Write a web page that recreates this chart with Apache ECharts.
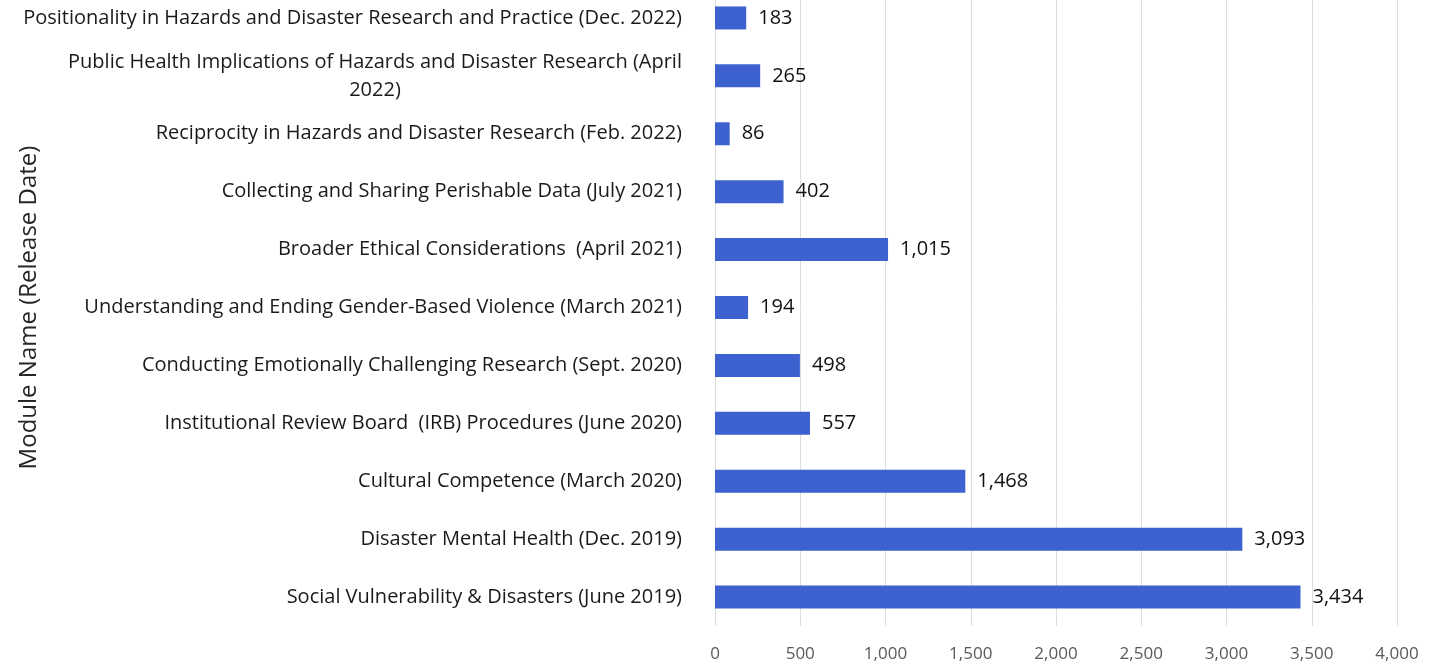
<!DOCTYPE html>
<html>
<head>
<meta charset="utf-8">
<script src="https://cdn.jsdelivr.net/npm/echarts@6/dist/echarts.min.js"></script>
<style>
html,body{margin:0;padding:0;background:#fff;overflow:hidden;width:1431px;height:665px;}
#c{width:1431px;height:676px;position:absolute;left:0;top:-11px;}
</style>
</head>
<body>
<div id="c"></div>
<script>
const categories = [
  "Positionality in Hazards and Disaster Research and Practice (Dec. 2022)",
  "Public Health Implications of Hazards and Disaster Research (April\n2022)",
  "Reciprocity in Hazards and Disaster Research (Feb. 2022)",
  "Collecting and Sharing Perishable Data (July 2021)",
  "Broader Ethical Considerations  (April 2021)",
  "Understanding and Ending Gender-Based Violence (March 2021)",
  "Conducting Emotionally Challenging Research (Sept. 2020)",
  "Institutional Review Board  (IRB) Procedures (June 2020)",
  "Cultural Competence (March 2020)",
  "Disaster Mental Health (Dec. 2019)",
  "Social Vulnerability & Disasters (June 2019)"
];
const values = [183, 265, 86, 402, 1015, 194, 498, 557, 1468, 3093, 3434];
const xTicks = [0, 500, 1000, 1500, 2000, 2500, 3000, 3500, 4000];
const axisTitle = "Module Name (Release Date)";

const FONT = "Open Sans";
const LABEL_SIZE = 20;

function measure(t) {
  const cv = document.createElement('canvas').getContext('2d');
  cv.font = LABEL_SIZE + 'px "' + FONT + '"';
  return cv.measureText(t).width;
}

const chart = echarts.init(document.getElementById('c'));
chart.setOption({
  backgroundColor: '#fff',
  animation: false,
  grid: { left: 715, right: 34, top: 0, bottom: 39, containLabel: false, outerBoundsMode: 'none' },
  xAxis: {
    type: 'value', min: xTicks[0], max: xTicks[xTicks.length - 1], interval: 500,
    axisLine: { show: false }, axisTick: { show: false },
    splitLine: { lineStyle: { color: '#dcdcdc', width: 1 } },
    axisLabel: {
      color: '#595959', fontFamily: FONT, fontSize: 17, margin: 20,
      formatter: v => v.toLocaleString('en-US')
    }
  },
  yAxis: {
    type: 'category', data: categories, inverse: true,
    axisLine: { show: false }, axisTick: { show: false },
    name: axisTitle, nameLocation: 'middle', nameGap: 674, nameRotate: 90,
    nameMoveOverlap: false,
    nameTextStyle: { fontFamily: FONT, fontSize: 24, color: '#262626' },
    axisLabel: {
      margin: 33, color: '#1a1a1a', fontFamily: FONT, fontSize: LABEL_SIZE,
      lineHeight: 28,
      formatter: function (v) {
        if (v.indexOf('\n') < 0) return v;
        return v.split('\n').map(p => '{c|' + p + '}').join('\n');
      },
      rich: {
        c: { align: 'center', width: Math.ceil(measure(categories[1].split('\n')[0])),
             fontFamily: FONT, fontSize: LABEL_SIZE, color: '#1a1a1a', lineHeight: 28 }
      }
    }
  },
  series: [{
    type: 'bar', data: values, barWidth: 23,
    itemStyle: { color: '#3d62cf' },
    label: {
      show: true, position: 'right', distance: 12,
      color: '#111', fontFamily: FONT, fontSize: 20,
      formatter: p => p.value.toLocaleString('en-US')
    }
  }]
});
</script>
</body>
</html>
